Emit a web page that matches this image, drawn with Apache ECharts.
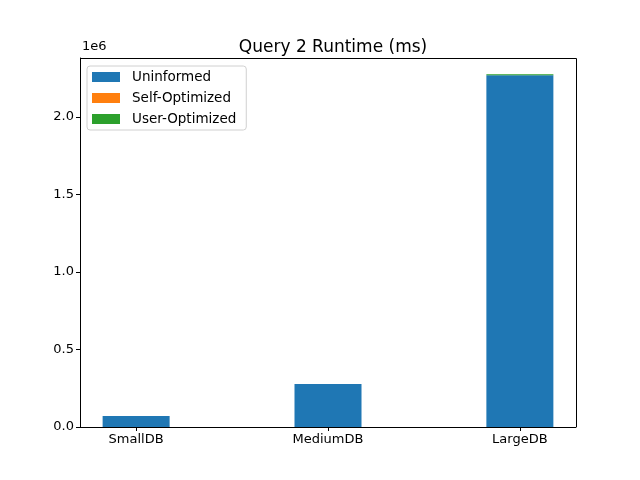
<!DOCTYPE html>
<html>
<head>
<meta charset="utf-8">
<script src="https://cdn.jsdelivr.net/npm/echarts@6/dist/echarts.min.js"></script>
<style>
  html, body { margin: 0; padding: 0; background: #fff; }
  #chart { width: 640px; height: 480px; }
</style>
</head>
<body>
<div id="chart"></div>
<script>
// data (ms)
const categories = ['SmallDB', 'MediumDB', 'LargeDB'];
const uninformed = [71000, 277000, 2268000];
const selfOptimized = [200, 400, 800];
const userOptimized = [300, 600, 6500];
const yTicks = [0, 500000, 1000000, 1500000, 2000000];

const font = 'DejaVu Sans';
const chart = echarts.init(document.getElementById('chart'));

// category i sits at x = i on a value axis, like matplotlib does.
// value goes first so the stack is done on y, not on x
function toPoints(arr) {
  return arr.map((v, i) => [v, i]);
}

function barSeries(name, arr, color) {
  return {
    name: name,
    type: 'bar',
    stack: 'q',
    barWidth: 67,
    encode: { x: 1, y: 0 },
    itemStyle: { color: color },
    data: toPoints(arr)
  };
}

const labelStyle = { fontFamily: font, fontSize: 13, fill: '#000' };

chart.setOption({
  animation: false,
  title: {
    text: 'Query 2 Runtime (ms)',
    left: 328,
    top: 34,
    textAlign: 'center',
    textStyle: { fontFamily: font, fontSize: 17, fontWeight: 'normal', color: '#000' }
  },
  legend: {
    orient: 'vertical',
    left: 87,
    top: 66,
    padding: [4, 10, 4, 5],
    itemWidth: 28,
    itemHeight: 10,
    itemGap: 7,
    borderColor: '#d0d0d0',
    borderWidth: 1,
    borderRadius: 3,
    icon: 'rect',
    textStyle: { fontFamily: font, fontSize: 13.5, color: '#000', padding: [0, 0, 0, 7], lineHeight: 14 },
    data: ['Uninformed', 'Self-Optimized', 'User-Optimized']
  },
  grid: { left: 80, right: 64, top: 58, bottom: 53 },
  xAxis: {
    type: 'value',
    min: -0.2925,
    max: 2.2925,
    splitLine: { show: false },
    axisLine: { show: true, onZero: false, lineStyle: { color: '#000', width: 1 } },
    axisTick: { show: true, length: 4, lineStyle: { color: '#000' }, customValues: [0, 1, 2] },
    axisLabel: {
      color: '#000', fontFamily: font, fontSize: 13, margin: 6,
      customValues: [0, 1, 2],
      formatter: v => categories[Math.round(v)]
    }
  },
  yAxis: {
    type: 'value',
    min: 0,
    max: 2380000,
    splitLine: { show: false },
    axisLine: { show: true, onZero: false, lineStyle: { color: '#000', width: 1 } },
    axisTick: { show: true, length: 4, lineStyle: { color: '#000' }, customValues: yTicks },
    axisLabel: {
      color: '#000', fontFamily: font, fontSize: 13, margin: 6,
      customValues: yTicks,
      formatter: v => (v / 1e6).toFixed(1)
    }
  },
  series: [
    barSeries('Uninformed', uninformed, '#1f77b4'),
    barSeries('Self-Optimized', selfOptimized, '#ff7f0e'),
    barSeries('User-Optimized', userOptimized, '#2ca02c')
  ]
});

// offset text and the right/top spines of the matplotlib frame
const gridRect = chart.getModel().getComponent('grid').coordinateSystem.getRect();
chart.setOption({
  graphic: [{
    type: 'text',
    left: 82,
    top: 40,
    style: labelStyle
  }, {
    type: 'polyline',
    shape: { points: [[gridRect.x, gridRect.y + 0.5], [gridRect.x + gridRect.width + 0.5, gridRect.y + 0.5], [gridRect.x + gridRect.width + 0.5, gridRect.y + gridRect.height]] },
    style: { stroke: '#000', lineWidth: 1, fill: null },
    silent: true
  }]
});
chart.setOption({ graphic: [{ style: { text: '1e6' } }] });
</script>
</body>
</html>
